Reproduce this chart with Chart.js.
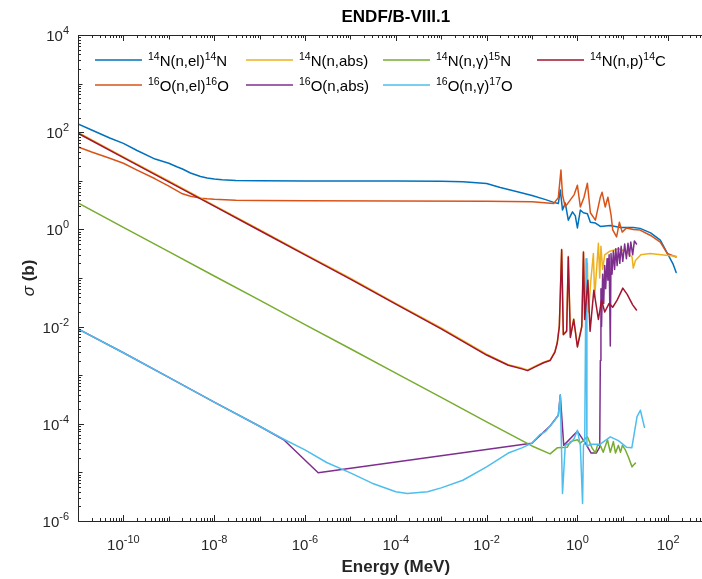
<!DOCTYPE html>
<html>
<head>
<meta charset="utf-8">
<title>ENDF/B-VIII.1</title>
<style>
  html, body { margin: 0; padding: 0; overflow: hidden; background: #ffffff; }
  #wrap { width: 720px; height: 579px; }
  canvas { display: block; }
</style>
<script src="https://cdn.jsdelivr.net/npm/chart.js@4.4.1/dist/chart.umd.min.js"></script>
</head>
<body>
<div id="wrap"><canvas id="xs" width="720" height="579" style="width:720px;height:579px"></canvas></div>
<script>
// Cross sections (barns) against incident neutron energy (MeV).

const nElEnergy = [1e-11, 2e-11, 5e-11, 1e-10, 2e-10, 5e-10, 1e-9, 1.5e-9, 2e-9, 3e-9, 5e-9, 7e-9, 1e-8, 1.5e-8, 3e-8, 1e-7, 1e-6, 1e-5, 1e-4, 1e-3, 3e-3, 1e-2, 2e-2, 5e-2, 0.1, 0.2, 0.3, 0.38, 0.42, 0.47, 0.54, 0.63, 0.78, 0.9, 1.0, 1.16, 1.36, 1.66, 1.93, 2.5, 3.2, 5.3, 8.9, 17, 24, 41, 67, 100, 129, 150];
const nElSigma  = [148, 111, 76, 59, 42, 28, 23, 19.5, 17.5, 14.5, 12.3, 11.4, 10.9, 10.5, 10.1, 10.0, 9.9, 9.9, 9.85, 9.8, 9.6, 8.8, 7.3, 5.9, 5.0, 4.1, 3.6, 3.4, 6.5, 2.5, 3.5, 1.55, 2.3, 1.9, 1.07, 2.5, 2.2, 2.1, 1.4, 1.35, 1.15, 1.2, 1.1, 1.1, 1.05, 0.85, 0.6, 0.3, 0.19, 0.13];

const oElEnergy = [1e-11, 2e-11, 5e-11, 1e-10, 2e-10, 5e-10, 1e-9, 2e-9, 3e-9, 5e-9, 7e-9, 1e-8, 3e-8, 1e-7, 1e-6, 1e-4, 1e-2, 0.1, 0.3, 0.38, 0.434, 0.47, 0.54, 0.68, 0.85, 1.0, 1.16, 1.4, 1.66, 1.93, 2.49, 3.2, 3.5, 4.1, 4.7, 5.5, 6.0, 7.3, 8.4, 9.7, 12, 17, 24, 41, 67, 95, 150];
const oElSigma  = [50, 39, 29, 23, 16.6, 11, 7.8, 5.4, 4.8, 4.4, 4.25, 4.15, 4.0, 3.95, 3.9, 3.85, 3.8, 3.7, 3.4, 4.5, 16.6, 5.1, 2.9, 3.9, 5.2, 8.1, 2.9, 4.6, 8.9, 2.2, 1.55, 4.6, 5.8, 2.9, 4.6, 2.0, 0.98, 0.7, 1.4, 0.88, 1.07, 1.0, 0.97, 0.75, 0.55, 0.32, 0.27];

const nAbsEnergy = [1e-11, 1e-10, 1e-9, 1e-8, 1e-7, 1e-6, 1e-5, 1e-4, 1e-3, 1e-2, 3e-2, 6e-2, 0.08, 0.12, 0.18, 0.25, 0.32, 0.36, 0.40, 0.45, 0.49, 0.58, 0.63, 0.7, 0.83, 1.0, 1.25, 1.36, 1.45, 1.6, 1.66, 1.75, 2.0, 2.25, 2.4, 2.9, 3.1, 3.3, 3.6, 4.0, 5, 8, 12, 16, 17, 19, 25, 40, 70, 100, 150];
const nAbsSigma  = [99, 31, 9.9, 3.1, 0.99, 0.31, 0.099, 0.030, 9.4e-3, 2.7e-3, 1.65e-3, 1.4e-3, 1.28e-3, 1.55e-3, 1.85e-3, 2.05e-3, 3.1e-3, 4.7e-3, 0.0105, 0.39, 7e-3, 8.3e-3, 0.28, 6.3e-3, 0.0145, 4e-3, 0.0105, 0.35, 0.015, 0.03, 0.2, 0.02, 0.1, 0.32, 0.04, 0.52, 0.1, 0.45, 0.15, 0.3, 0.35, 0.4, 0.35, 0.27, 0.16, 0.23, 0.3, 0.32, 0.3, 0.29, 0.28];

const oAbsEnergy = [1e-11, 1e-10, 1e-9, 1e-8, 1e-7, 3.4e-7, 1.95e-6, 0.081, 0.1, 0.25, 0.38, 0.42, 0.5, 1.0, 1.5, 2.0, 2.6, 3.1, 3.2, 3.3, 3.4, 3.6, 3.8, 4.0, 4.2, 4.5, 4.7, 5.0, 5.3, 5.5, 5.8, 6.2, 6.6, 7.0, 7.5, 8.0, 8.6, 9.2, 10, 11, 12, 13, 14, 15, 16.5, 18, 20];
const oAbsSigma  = [9e-3, 2.9e-3, 9e-4, 2.8e-4, 8.9e-5, 4.7e-5, 9.8e-6, 3.9e-5, 4.0e-5, 9e-5, 1.5e-4, 3.9e-4, 3.6e-5, 7e-5, 4e-5, 2.5e-5, 2.5e-5, 3.3e-5, 0.002, 0.06, 0.01, 0.12, 0.03, 0.18, 0.06, 0.25, 0.09, 0.3, 0.004, 0.32, 0.12, 0.36, 0.15, 0.4, 0.18, 0.42, 0.2, 0.45, 0.22, 0.5, 0.25, 0.52, 0.28, 0.55, 0.3, 0.58, 0.5];

const nGamEnergy = [1e-11, 1e-10, 1e-9, 1e-8, 1e-7, 1e-6, 1e-5, 1e-4, 1e-3, 1e-2, 0.1, 0.25, 0.36, 0.6, 0.7, 1.0, 1.16, 1.66, 2.1, 2.5, 2.75, 3.2, 3.7, 4.6, 5.3, 6.2, 6.9, 8.0, 8.9, 9.8, 11.4, 13.2, 16, 17, 19];
const nGamSigma  = [3.5, 1.1, 0.35, 0.11, 0.035, 0.011, 3.5e-3, 1.1e-3, 3.5e-4, 1.1e-4, 3.5e-5, 2.4e-5, 3.2e-5, 3.3e-5, 4.3e-5, 4.7e-5, 4.0e-5, 5.4e-5, 3.2e-5, 2.5e-5, 3.6e-5, 3.6e-5, 2.6e-5, 4.7e-5, 2.6e-5, 4.3e-5, 2.5e-5, 3.6e-5, 2.6e-5, 3.6e-5, 2.9e-5, 2.1e-5, 1.3e-5, 1.4e-5, 1.55e-5];

const oGamEnergy = [1e-11, 1e-10, 1e-9, 1e-8, 1e-7, 3e-7, 1e-6, 3e-6, 1e-5, 3e-5, 1e-4, 1.8e-4, 5e-4, 1e-3, 3e-3, 1e-2, 3e-2, 6e-2, 0.1, 0.15, 0.2, 0.25, 0.3, 0.38, 0.42, 0.47, 0.54, 0.6, 0.7, 0.85, 1.0, 1.16, 1.3, 1.36, 1.45, 1.55, 1.62, 2.0, 3.2, 5.3, 8, 12, 15.8, 20.6, 24.4, 30];
const oGamSigma  = [9e-3, 2.9e-3, 9e-4, 2.8e-4, 8.9e-5, 5.1e-5, 2.9e-5, 1.6e-5, 9.8e-6, 6e-6, 4e-6, 3.7e-6, 4e-6, 4.8e-6, 6.9e-6, 1.3e-5, 2.5e-5, 3.2e-5, 4.0e-5, 6e-5, 7e-5, 9e-5, 1.1e-4, 1.5e-4, 3.9e-4, 3.7e-6, 3.6e-5, 3.8e-5, 4e-5, 5e-5, 7.4e-5, 3.6e-5, 2.3e-6, 3.6e-5, 4e-5, 0.25, 3.5e-5, 3.8e-5, 3.8e-5, 5.4e-5, 4.5e-5, 3.3e-5, 3.2e-5, 1.4e-4, 1.9e-4, 8.5e-5];

const nPEnergy = [1e-11, 1e-10, 1e-9, 1e-8, 1e-7, 1e-6, 1e-5, 1e-4, 1e-3, 1e-2, 3e-2, 6e-2, 0.08, 0.12, 0.18, 0.25, 0.32, 0.36, 0.40, 0.45, 0.49, 0.58, 0.63, 0.7, 0.83, 1.0, 1.25, 1.36, 1.45, 1.7, 1.9, 2.3, 2.9, 3.4, 4.0, 5.0, 6.0, 7.5, 9, 10, 12.5, 16.5, 20];
const nPSigma  = [95, 30, 9.5, 3.0, 0.95, 0.30, 0.095, 0.029, 9e-3, 2.6e-3, 1.6e-3, 1.35e-3, 1.24e-3, 1.5e-3, 1.8e-3, 2.0e-3, 3.0e-3, 4.6e-3, 0.01, 0.38, 6.8e-3, 8e-3, 0.27, 6e-3, 0.014, 3.8e-3, 0.01, 0.34, 0.014, 0.09, 8e-3, 0.056, 0.014, 0.035, 0.02, 0.03, 0.025, 0.035, 0.05, 0.062, 0.046, 0.028, 0.022];

// Legend text, in plotting order (^{..} marks a superscript)
const seriesLabels = [
  '^{14}N(n,el)^{14}N',
  '^{16}O(n,el)^{16}O',
  '^{14}N(n,abs)',
  '^{16}O(n,abs)',
  '^{14}N(n,γ)^{15}N',
  '^{16}O(n,γ)^{17}O',
  '^{14}N(n,p)^{14}C'
];
const seriesColors = ['#0072BD', '#D95319', '#EDB120', '#7E2F8E', '#77AC30', '#4DBEEE', '#A2142F'];

// Decade exponents that carry a tick label
const xTickExps = [-10, -8, -6, -4, -2, 0, 2];
const yTickExps = [-6, -4, -2, 0, 2, 4];

const titleText = 'ENDF/B-VIII.1';
const xTitleText = 'Energy (MeV)';
const yTitleSymbol = 'σ';
const yTitleRest = ' (b)';

const seriesData = [
  [nElEnergy, nElSigma],
  [oElEnergy, oElSigma],
  [nAbsEnergy, nAbsSigma],
  [oAbsEnergy, oAbsSigma],
  [nGamEnergy, nGamSigma],
  [oGamEnergy, oGamSigma],
  [nPEnergy, nPSigma]
];

const FONT = "'Liberation Sans', Arial, Helvetica, sans-serif";
const INK = '#262626';

function parseRich(s) {
  const segs = [];
  let buf = '';
  let i = 0;
  while (i < s.length) {
    if (s[i] === '^' && s[i + 1] === '{') {
      if (buf) { segs.push({ t: buf, sup: false }); buf = ''; }
      const j = s.indexOf('}', i);
      segs.push({ t: s.slice(i + 2, j), sup: true });
      i = j + 1;
    } else {
      buf += s[i];
      i++;
    }
  }
  if (buf) segs.push({ t: buf, sup: false });
  return segs;
}

function richWidth(ctx, segs, baseFont, supFont) {
  let w = 0;
  for (const s of segs) {
    ctx.font = s.sup ? supFont : baseFont;
    w += ctx.measureText(s.t).width;
  }
  return w;
}

function drawRich(ctx, segs, x, y, baseFont, supFont, rise) {
  let cx = x;
  ctx.textAlign = 'left';
  ctx.textBaseline = 'alphabetic';
  for (const s of segs) {
    ctx.font = s.sup ? supFont : baseFont;
    ctx.fillText(s.t, cx, s.sup ? y - rise : y);
    cx += ctx.measureText(s.t).width;
  }
}

const frame = {
  id: 'frame',
  afterDatasetsDraw(chart) {
    const ctx = chart.ctx;
    const a = chart.chartArea;
    const xs = chart.scales.x;
    const ys = chart.scales.y;
    ctx.save();

    // axes box
    ctx.strokeStyle = INK;
    ctx.lineWidth = 1;
    ctx.beginPath();
    ctx.rect(Math.round(a.left) + 0.5, Math.round(a.top) + 0.5, Math.round(a.right - a.left), Math.round(a.bottom - a.top));
    ctx.stroke();

    // tick marks, pointing inward, on both sides
    ctx.beginPath();
    for (let d = -11; d <= 2; d++) {
      for (let m = 1; m <= 9; m++) {
        const px = Math.round(xs.getPixelForValue(m * Math.pow(10, d))) + 0.5;
        let len = 3;
        if (m === 1) len = xTickExps.includes(d) ? 6 : 4.5;
        ctx.moveTo(px, a.bottom); ctx.lineTo(px, a.bottom - len);
        ctx.moveTo(px, a.top); ctx.lineTo(px, a.top + len);
      }
    }
    for (let d = -6; d <= 3; d++) {
      for (let m = 1; m <= 9; m++) {
        const py = Math.round(ys.getPixelForValue(m * Math.pow(10, d))) + 0.5;
        let len = 3;
        if (m === 1) len = yTickExps.includes(d) ? 6 : 4.5;
        ctx.moveTo(a.left, py); ctx.lineTo(a.left + len, py);
        ctx.moveTo(a.right, py); ctx.lineTo(a.right - len, py);
      }
    }
    ctx.stroke();

    // tick labels
    ctx.fillStyle = INK;
    const base = '15px ' + FONT;
    const sup = '11px ' + FONT;
    for (const e of xTickExps) {
      const segs = [{ t: '10', sup: false }, { t: String(e), sup: true }];
      const w = richWidth(ctx, segs, base, sup);
      const px = xs.getPixelForValue(Math.pow(10, e));
      drawRich(ctx, segs, px - w / 2, a.bottom + 29, base, sup, 7);
    }
    for (const e of yTickExps) {
      const segs = [{ t: '10', sup: false }, { t: String(e), sup: true }];
      const w = richWidth(ctx, segs, base, sup);
      const py = ys.getPixelForValue(Math.pow(10, e));
      drawRich(ctx, segs, a.left - 9 - w, py + 6, base, sup, 7);
    }

    // title and axis titles
    ctx.fillStyle = '#000000';
    ctx.textAlign = 'center';
    ctx.textBaseline = 'alphabetic';
    ctx.font = 'bold 17px ' + FONT;
    const cxp = (a.left + a.right) / 2;
    ctx.fillText(titleText, cxp, 22);
    ctx.fillStyle = INK;
    ctx.font = 'bold 17px ' + FONT;
    ctx.fillText(xTitleText, cxp, 572);

    ctx.save();
    ctx.translate(34, (a.top + a.bottom) / 2);
    ctx.rotate(-Math.PI / 2);
    ctx.font = 'italic 17px ' + FONT;
    const w1 = ctx.measureText(yTitleSymbol).width;
    ctx.font = 'bold 17px ' + FONT;
    const w2 = ctx.measureText(yTitleRest).width;
    ctx.textAlign = 'left';
    ctx.font = 'italic 17px ' + FONT;
    ctx.fillText(yTitleSymbol, -(w1 + w2) / 2, 0);
    ctx.font = 'bold 17px ' + FONT;
    ctx.fillText(yTitleRest, -(w1 + w2) / 2 + w1, 0);
    ctx.restore();

    // legend: four columns, filled top to bottom
    const colX = [95, 246, 383, 537];
    const rowY = [60, 85];
    const lineLen = 47;
    const lbase = '15px ' + FONT;
    const lsup = '10.5px ' + FONT;
    chart.data.datasets.forEach((ds, i) => {
      const col = Math.floor(i / 2);
      const row = i % 2;
      const x0 = colX[col];
      const y0 = rowY[row];
      ctx.strokeStyle = ds.borderColor;
      ctx.lineWidth = 1.5;
      ctx.beginPath();
      ctx.moveTo(x0, y0);
      ctx.lineTo(x0 + lineLen, y0);
      ctx.stroke();
      ctx.fillStyle = '#000000';
      drawRich(ctx, parseRich(seriesLabels[i]), x0 + lineLen + 6, y0 + 6, lbase, lsup, 6);
    });

    ctx.restore();
  }
};

const datasets = seriesData.map(([E, S], i) => ({
  label: seriesLabels[i],
  data: E.map((e, k) => ({ x: e, y: S[k] })),
  borderColor: seriesColors[i],
  backgroundColor: seriesColors[i],
  borderWidth: 1.5,
  pointRadius: 0,
  fill: false,
  tension: 0,
  // later series are drawn over earlier ones
  order: seriesData.length - i
}));

new Chart(document.getElementById('xs'), {
  type: 'line',
  data: { datasets },
  options: {
    responsive: false,
    animation: false,
    devicePixelRatio: 1,
    parsing: false,
    normalized: true,
    layout: { padding: { left: 78, right: 6.4, top: 35, bottom: 58 } },
    scales: {
      x: { type: 'logarithmic', min: 1e-11, max: 1e3, display: false },
      y: { type: 'logarithmic', min: 1e-6, max: 1e4, display: false }
    },
    plugins: {
      legend: { display: false },
      tooltip: { enabled: false },
      title: { display: false }
    },
    elements: { line: { borderJoinStyle: 'round', borderCapStyle: 'round' } }
  },
  plugins: [frame]
});
</script>
</body>
</html>
